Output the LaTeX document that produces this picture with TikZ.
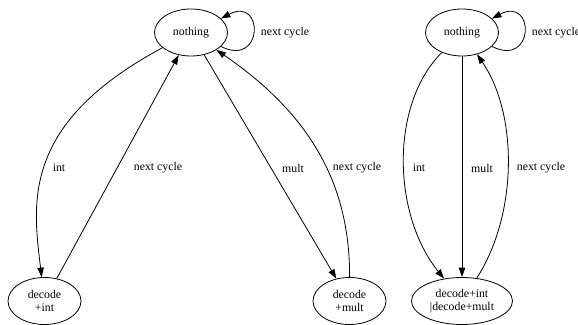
\documentclass[tikz,border=0pt]{standalone}
\usepackage{fontspec}
\setmainfont{Liberation Serif}
\usepackage{tikz}
\usetikzlibrary{arrows.meta, positioning, shapes.geometric}

\begin{document}
\begin{tikzpicture}[x=1pt, y=1pt, line width=0.8pt,
    state/.style={ellipse, draw, inner sep=0pt, minimum width=73pt, minimum height=47pt,
        align=center, font=\fontsize{11.8}{12.6}\selectfont},
    lbl/.style={font=\fontsize{11.8}{12.6}\selectfont, inner sep=0pt},
    edge/.style={-{Triangle[length=9.5pt, width=6.5pt]}}]
    \useasboundingbox (0,0) rectangle (578,324);

    % left graph
    \node[state] (nothA) at (191, 291.5) {nothing};
    \node[state] (decA) at (44.5, 23) {decode\\+int};
    \node[state] (decB) at (349.5, 23) {decode\\+mult};
    \draw[edge] (nothA.-25) .. controls (264,256) and (264,328) .. (nothA.25);
    \node[lbl] (loopA) at (285, 291) {next cycle};
    \draw[edge] (nothA) .. controls (20,200) and (33,120) .. (decA);
    \node[lbl] (intA) at (59, 156) {int};
    \draw[edge] (decA) -- (nothA);
    \node[lbl] (backA) at (158, 156) {next cycle};
    \draw[edge] (nothA) -- (decB);
    \node[lbl] (multA) at (293, 156) {mult};
    \draw[edge] (decB) .. controls (350,140) and (310,210) .. (nothA);
    \node[lbl] (backB) at (357, 156) {next cycle};

    % right graph
    \node[state] (nothB) at (462, 291.5) {nothing};
    \node[state, minimum width=101pt] (decC) at (462, 23) {decode+int\\|decode+mult};
    \draw[edge] (nothB.-25) .. controls (535,256) and (535,328) .. (nothB.25);
    \node[lbl] (loopB) at (556, 291) {next cycle};
    \draw[edge] (nothB) .. controls (390,220) and (392,110) .. (decC);
    \node[lbl] (intC) at (419, 156) {int};
    \draw[edge] (nothB) -- (decC);
    \node[lbl] (multC) at (482, 156) {mult};
    \draw[edge] (decC) .. controls (518,110) and (518,210) .. (nothB);
    \node[lbl] (backC) at (541, 156) {next cycle};
\end{tikzpicture}
\end{document}
